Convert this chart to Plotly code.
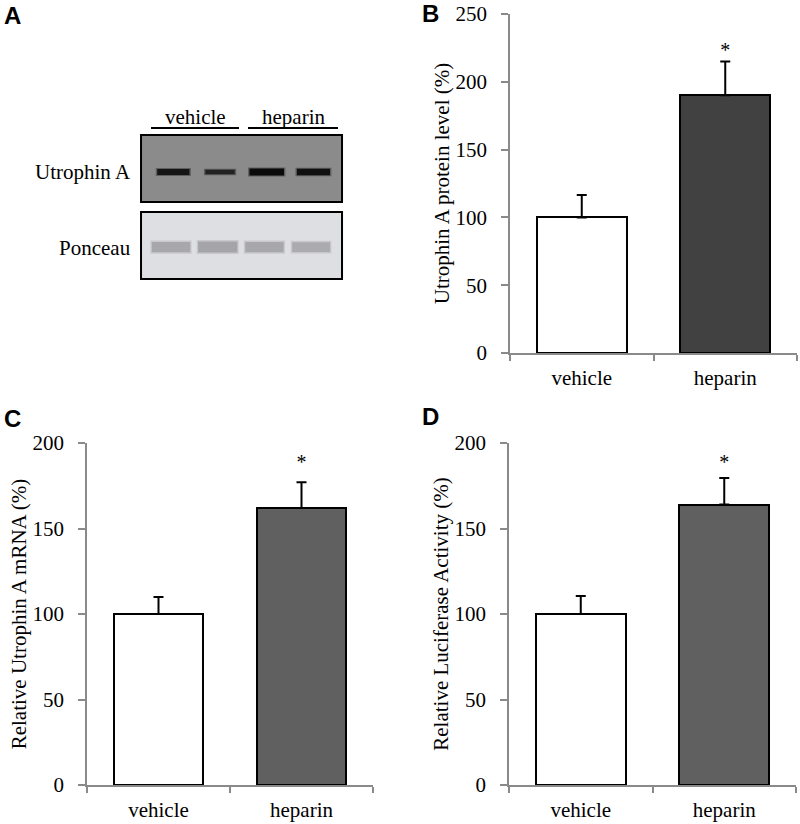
import plotly.graph_objects as go

# ---------------- data ----------------
categories = ["vehicle", "heparin"]

protein_mean = [100, 190]
protein_err = [16.5, 25]

mrna_mean = [100, 162]
mrna_err = [10, 15]

luc_mean = [100, 164]
luc_err = [10.5, 15.5]

sig_marker = ["", "*"]

# western blot (panel A): lanes and relative band intensities
blot_lanes = [0, 1, 2, 3]
blot_groups = ["vehicle", "heparin"]
utrophin_intensity = [0.75, 0.45, 1.0, 0.85]
ponceau_intensity = [0.85, 1.0, 0.85, 0.75]

# ---------------- helpers ----------------
W, H = 800, 824
SERIF = "Liberation Serif, Times New Roman, serif"
SANS = "Liberation Sans, Arial, sans-serif"
AXIS_GRAY = "#8a8a8a"
FS = 21


def px_x(a, b):
    return [a / W, b / W]


def px_y(top, bottom):
    return [1 - bottom / H, 1 - top / H]


fig = go.Figure()

panels = [
    ("x", "y", protein_mean, protein_err, "#414141", 250, 50,
     "Utrophin A protein level (%)", px_x(510, 797), px_y(14, 353), 222),
    ("x2", "y2", mrna_mean, mrna_err, "#606060", 200, 50,
     "Relative Utrophin A mRNA (%)", px_x(87, 373), px_y(443, 785), 188),
    ("x3", "y3", luc_mean, luc_err, "#606060", 200, 50,
     "Relative Luciferase Activity (%)", px_x(509, 796), px_y(443, 785), 187.5),
]

layout_axes = {}
for i, (xa, ya, means, errs, col, ymax, dt, title, xdom, ydom, star_y) in enumerate(panels):
    fig.add_trace(go.Bar(
        x=categories, y=means, xaxis=xa, yaxis=ya,
        marker=dict(color=["#ffffff", col], line=dict(color="#000000", width=2)),
        width=0.627,
        error_y=dict(type="data", array=errs, arrayminus=[0, 0], symmetric=False,
                     color="#000000", thickness=2, width=5),
        showlegend=False,
    ))
    fig.add_trace(go.Scatter(
        x=categories, y=[star_y, star_y], xaxis=xa, yaxis=ya,
        mode="text", text=sig_marker, textposition="middle center",
        textfont=dict(family=SERIF, size=20, color="#000000"),
        showlegend=False, hoverinfo="skip",
    ))
    xkey = "xaxis" if xa == "x" else "xaxis" + xa[1:]
    ykey = "yaxis" if ya == "y" else "yaxis" + ya[1:]
    layout_axes[xkey] = dict(
        domain=xdom, anchor=ya, type="category", range=[-0.5, 1.5],
        showline=True, linecolor=AXIS_GRAY, linewidth=1.5,
        ticks="outside", ticklen=6, tickcolor=AXIS_GRAY, tickwidth=1.5,
        tickson="boundaries", showgrid=False, zeroline=False, automargin=False,
        tickfont=dict(family=SERIF, size=FS, color="#000000"),
        ticklabelstandoff=5,
    )
    layout_axes[ykey] = dict(
        domain=ydom, anchor=xa, range=[0, ymax], dtick=dt, tick0=0,
        showline=True, linecolor=AXIS_GRAY, linewidth=1.5,
        ticks="outside", ticklen=7, tickcolor=AXIS_GRAY, tickwidth=1.5,
        showgrid=False, zeroline=False, automargin=False,
        tickfont=dict(family=SERIF, size=FS, color="#000000"),
        ticklabelstandoff=10,
        title=dict(text=title, font=dict(family=SERIF, size=21, color="#000000"),
                   standoff=0),
    )

# ---------------- panel A: western blot ----------------
LANE0, LANE_STEP = 171.0, 46.7  # px of lane 0 centre and lane spacing
layout_axes["xaxis4"] = dict(domain=[0, 0.5], anchor="y4", automargin=False,
                             range=[-LANE0 / LANE_STEP, (400 - LANE0) / LANE_STEP],
                             visible=False, fixedrange=True)
layout_axes["yaxis4"] = dict(domain=[0.5, 1], anchor="x4", range=[412, 0],
                             automargin=False, visible=False, fixedrange=True)
fig.add_trace(go.Scatter(x=[0], y=[0], xaxis="x4", yaxis="y4", mode="markers",
                         marker=dict(opacity=0), showlegend=False, hoverinfo="skip"))

shapes = []
box_left, box_right = -0.642, 3.662
shapes.append(dict(type="rect", xref="x4", yref="y4", x0=box_left, x1=box_right,
                   y0=135, y1=202, fillcolor="#8b8b8b",
                   line=dict(color="#000000", width=2), layer="below"))
shapes.append(dict(type="rect", xref="x4", yref="y4", x0=box_left, x1=box_right,
                   y0=212, y1=279, fillcolor="#dedfe3",
                   line=dict(color="#000000", width=2), layer="below"))

# utrophin bands (soft halo + core)
for lane, inten in zip(blot_lanes, utrophin_intensity):
    half = 0.27 + 0.1 * inten
    thick = 2.5 + 4.5 * inten
    g = int(55 - 45 * inten)
    shapes.append(dict(type="rect", xref="x4", yref="y4",
                       x0=lane + 0.05 - half - 0.03, x1=lane + 0.05 + half + 0.03,
                       y0=172 - thick / 2 - 1, y1=172 + thick / 2 + 1,
                       fillcolor="rgba(40,40,40,0.45)", line=dict(width=0)))
    shapes.append(dict(type="rect", xref="x4", yref="y4",
                       x0=lane + 0.05 - half, x1=lane + 0.05 + half,
                       y0=172 - thick / 2, y1=172 + thick / 2,
                       fillcolor=f"rgb({g},{g},{g})", line=dict(width=0)))
# ponceau bands
for lane, inten in zip(blot_lanes, ponceau_intensity):
    half = 0.36 + 0.06 * inten
    thick = 6 + 5 * inten
    g = int(188 - 24 * inten)
    shapes.append(dict(type="rect", xref="x4", yref="y4",
                       x0=lane - half - 0.03, x1=lane + half + 0.03,
                       y0=247 - thick / 2 - 1.5, y1=247 + thick / 2 + 1.5,
                       fillcolor="rgba(185,185,192,0.6)", line=dict(width=0)))
    shapes.append(dict(type="rect", xref="x4", yref="y4",
                       x0=lane - half, x1=lane + half,
                       y0=247 - thick / 2, y1=247 + thick / 2,
                       fillcolor=f"rgb({g},{g},{g + 5})", line=dict(width=0)))

group_spans = [(-0.428, 1.456), (1.649, 3.576)]
for (a, b) in group_spans:
    shapes.append(dict(type="line", xref="x4", yref="y4", x0=a, x1=b, y0=128, y1=128,
                       line=dict(color="#000000", width=2)))

annotations = []
for (a, b), name in zip(group_spans, blot_groups):
    annotations.append(dict(x=(a + b) / 2, y=131, xref="x4", yref="y4", text=name,
                            showarrow=False, yanchor="bottom",
                            font=dict(family=SERIF, size=FS, color="#000000")))
annotations.append(dict(x=-0.814, y=172, xref="x4", yref="y4", text="Utrophin A",
                        showarrow=False, xanchor="right", yanchor="middle",
                        font=dict(family=SERIF, size=FS, color="#000000")))
annotations.append(dict(x=-0.82, y=248, xref="x4", yref="y4", text="Ponceau",
                        showarrow=False, xanchor="right", yanchor="middle",
                        font=dict(family=SERIF, size=FS, color="#000000")))

for letter, lx, ly in [("A", 12, 15), ("B", 431, 14), ("C", 12, 418), ("D", 431, 416)]:
    annotations.append(dict(x=lx / W, y=1 - ly / H, xref="paper", yref="paper",
                            text=f"<b>{letter}</b>", showarrow=False,
                            xanchor="center", yanchor="middle",
                            font=dict(family=SANS, size=24, color="#000000")))

fig.update_layout(
    width=W, height=H, margin=dict(l=0, r=0, t=0, b=0, autoexpand=False),
    paper_bgcolor="#ffffff", plot_bgcolor="rgba(0,0,0,0)",
    shapes=shapes, annotations=annotations, showlegend=False,
    bargap=0, **layout_axes,
)

fig.write_html("out.html", config={"displayModeBar": False},
               post_script="document.body.style.margin='0';document.body.style.overflow='hidden';")
